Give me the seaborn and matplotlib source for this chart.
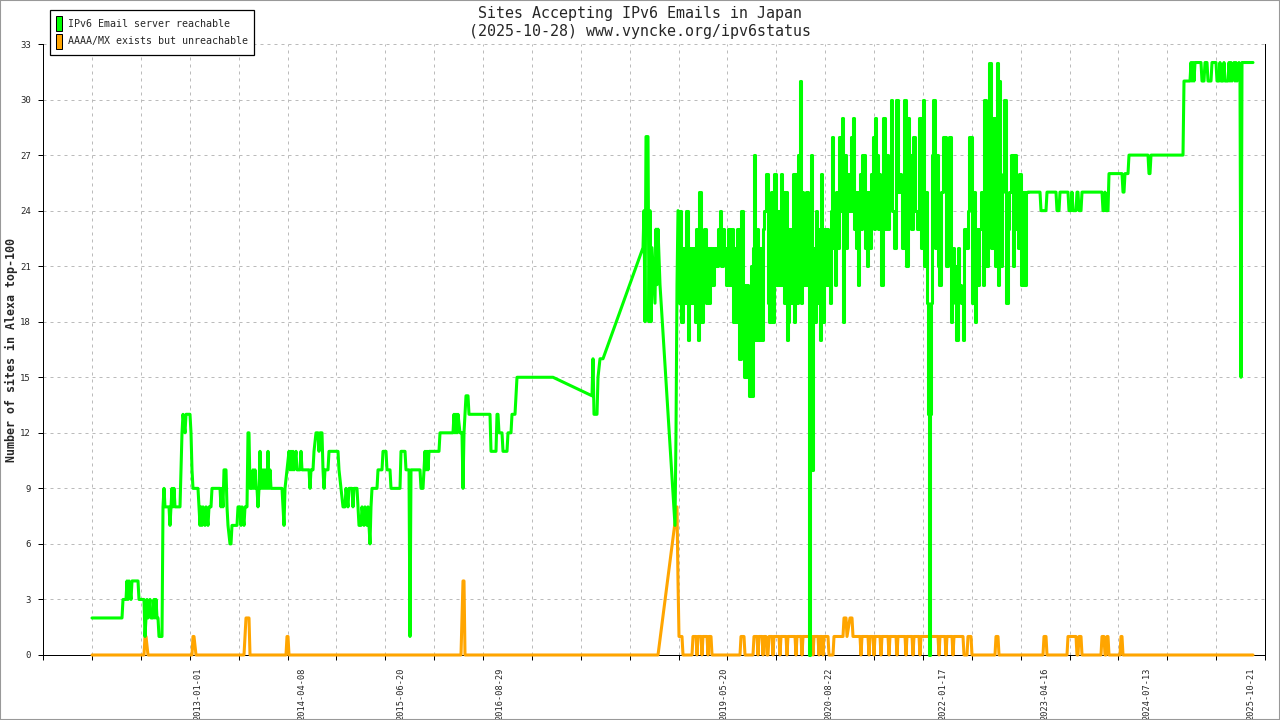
import numpy as np
import pandas as pd
import matplotlib
matplotlib.use("Agg")
import matplotlib.pyplot as plt
from matplotlib.patches import Patch, Rectangle
import seaborn as sns

# ---------------- data (sample position, number of sites) ----------------
green_early = [(92,2),(122,2),(123,3),(126,3),(127,4),(128,3),(129,4),(131,3),(132,4),(138,4),(139,3),(144,3),
    (145,1),(146,2),(147,3),(148,2),(150,3),(151,2),(153,2),(154,3),(155,2),(156,3),(157,2),(158,2),(159,1),(162,1),
    (163,8),(164,9),(165,8),(169,8),(170,7),(171,8),(172,9),(173,8),(174,9),(175,8),(180,8),(181,10),(182,12),(183,13),
    (185,12),(186,13),(190,13),(191,12),(192,10),(193,9),(198,9),(200,7),(201,8),(202,7),(203,8),(205,7),(206,8),(208,7),
    (209,8),(211,8),(212,9),(220,9),(221,8),(222,9),(223,8),(224,10),(226,10),(227,8),(228,7),(230,6),(231,6),(232,7),
    (237,7),(238,8),(240,8),(241,7),(242,8),(244,7),(245,8),(247,8),(248,12),(249,12),(250,9),(252,9),(253,10),(254,9),
    (255,10),(256,9),(257,9),(258,8),(259,9),(260,11),(261,9),(262,10),(263,9),(264,10),(265,9),(266,10),(267,9),(268,11),
    (269,9),(270,10),(271,9),(282,9),(283,8),(284,7),(285,9),(287,10),(289,11),(290,10),(291,11),(292,10),(293,11),(294,10),
    (296,11),(297,10),(300,10),(301,11),(302,10),(309,10),(310,9),(311,10),(313,10),(314,11),(316,12),(318,12),(319,11),
    (320,12),(322,12),(323,10),(324,9),(325,10),(328,10),(329,11),(338,11),(339,10),(341,9),(343,8),(345,8),(346,9),(348,8),
    (349,9),(352,9),(353,8),(354,9),(357,9),(358,8),(359,7),(361,7),(362,8),(364,7),(365,8),(367,7),(368,8),(370,6),(371,8),
    (372,9),(377,9),(378,10),(382,10),(383,11)]

green_mid = [(386,11),(387,10),(390,10),(391,9),(400,9),(401,11),(405,11),(406,10),(409,10),(410,1),(411,10),(420,10),
    (421,9),(423,9),(424,10),(425,11),(426,10),(427,11),(428,10),(429,11),(439,11),(440,12),(453,12),(454,13),(455,12),
    (456,13),(457,12),(458,13),(460,12),(462,12),(463,9),(464,12),(465,13),(466,14),(468,14),(469,13),(490,13),(491,11),
    (496,11),(497,13),(498,13),(499,12),(502,12),(503,11),(507,11),(508,12),(511,12),(512,13),(515,13),(516,14),(517,15),
    (553,15),(592,14),(593,16),(594,13),(597,13),(598,15),(600,16),(603,16),(643,22),(644,24),(645,18),(646,28),(648,28),
    (649,18),(650,24),(651,18),(652,22),(653,21),(655,19),(656,23),(657,20),(658,23),(660,20),(675,7),(676,12),(677,20),
    (678,24)]

green_noisy = [(678,24),(679,19),(680,24),(682,18),(683,22),(685,19),(687,24),(688,17),(690,22),(692,19),(694,22),
    (695,18),(697,23),(698,17),(700,25),(702,18),(703,22),(705,23),(706,19),(708,22),(709,19),(711,22),(713,20),(715,22),
    (717,21),(719,23),(720,24),(722,21),(723,23),(725,22),(727,20),(729,23),(731,20),(732,23),(733,18),(735,22),(736,18),
    (738,23),(740,16),(742,24),(743,20),(745,15),(747,20),(748,15),(750,14),(751,21),(752,14),(753,22),(754,27),(755,17),
    (757,23),(759,17),(761,22),(762,17),(763,23),(765,24),(767,26),(768,19),(770,18),(772,25),(773,18),(775,26),(777,20),
    (778,24),(780,20),(781,26),(782,20),(783,25),(785,19),(786,25),(787,17),(788,18),(790,23),(792,19),(793,26),(794,18),
    (796,26),(797,19),(798,27),(799,20),(800,31),(801,19),(802,25),(803,22),(805,20),(807,25),(808,20),(809,0),(810,10),
    (811,27),(812,10),(813,22),(815,18),(816,24),(818,19),(819,23),(820,17),(821,26),(822,20),(823,18),(825,23),(826,20),
    (827,23),(829,20),(830,19),(831,24),(832,28),(834,22),(835,20),(836,25),(838,22),(840,28),(841,24),(842,29),(843,18),
    (844,24),(845,27),(846,22),(847,25),(848,26),(850,24),(851,28),(852,24),(853,29),(854,23),(855,25),(856,22),(857,25),
    (858,20),(859,24),(860,26),(861,23),(862,27),(863,24),(864,27),(865,22),(866,25),(867,21),(869,25),(870,22),(872,26),
    (873,28),(874,23),(875,29),(876,25),(877,27),(878,23),(879,26),(880,24),(882,20),(884,29),(885,23),(887,27),(888,23),
    (890,25),(891,30),(893,24),(895,22),(897,30),(898,25),(900,26),(901,25),(903,22),(905,30),(907,21),(908,29),(910,27),
    (912,23),(914,28),(915,24),(918,23),(920,29),(922,22),(923,30),(925,21),(926,25),(927,19),(928,13),(929,0),(930,13),
    (931,19),(932,27),(934,30),(935,22),(937,27),(938,21),(940,20),(942,25),(943,28),(945,28),(947,21),(948,27),(950,28),
    (951,18),(952,19),(953,22),(955,21),(957,17),(958,22),(960,20),(962,19),(963,17),(965,23),(967,22),(968,24),(969,28),
    (970,28),(973,19),(974,25),(975,18),(977,23),(978,20),(980,23),(982,25),(983,20),(985,30),(987,21),(988,24),(990,32),
    (992,22),(994,29),(995,21),(996,25),(997,32),(998,20),(999,31),(1001,21),(1002,25),(1003,26),(1005,30),(1007,19),
    (1008,23),(1009,25),(1012,27),(1013,21),(1015,27),(1017,23),(1018,22),(1020,26),(1022,20),(1023,25),(1025,20),
    (1027,25),(1028,25)]

green_late = [(1028,25),(1040,25),(1041,24),(1046,24),(1047,25),(1056,25),(1057,24),(1059,24),(1060,25),(1068,25),
    (1069,24),(1071,24),(1072,25),(1073,24),(1076,24),(1077,25),(1078,25),(1079,24),(1081,24),(1082,25),(1102,25),
    (1103,24),(1104,24),(1105,25),(1106,24),(1108,24),(1109,26),(1122,26),(1123,25),(1124,25),(1125,26),(1128,26),
    (1129,27),(1148,27),(1149,26),(1150,26),(1151,27),(1183,27),(1184,31),(1190,31),(1191,32),(1192,31),(1193,32),
    (1194,31),(1195,32),(1201,32),(1202,31),(1204,31),(1205,32),(1207,32),(1208,31),(1211,31),(1212,32),(1216,32),
    (1217,31),(1219,31),(1220,32),(1221,31),(1223,31),(1224,32),(1225,31),(1228,31),(1229,32),(1230,31),(1231,32),
    (1232,31),(1234,32),(1235,31),(1236,32),(1237,31),(1239,32),(1240,31),(1241,15),(1242,32),(1253,32)]

orange_early = [(92,0),(144,0),(145,1),(146,1),(148,0),(192,0),(193,1),(194,1),(196,0),(244,0),(245,1),(246,2),
    (249,2),(250,0),(286,0),(287,1),(288,1),(289,0),(461,0),(462,2),(463,4),(464,4),(465,0),(658,0),(677,8),(678,4),
    (679,1),(682,1),(683,0)]

orange_noisy = [(692,0),(693,1),(696,1),(697,0),(698,1),(701,1),(702,0),(703,1),(707,1),(708,0),(709,1),(711,1),
    (712,0),(740,0),(741,1),(744,1),(745,0),(753,0),(754,1),(757,1),(758,0),(759,1),(762,1),(763,0),(764,1),(766,1),
    (767,0),(768,0),(769,1),(772,1),(773,0),(774,1),(779,1),(780,0),(781,1),(786,1),(787,0),(788,1),(795,1),(796,0),
    (797,1),(801,1),(802,0),(803,1),(812,1),(813,0),(814,1),(818,1),(819,0),(820,1),(822,1),(823,0),(824,1),(828,1),
    (829,0),(833,0),(834,1),(843,1),(844,2),(846,2),(847,1),(850,2),(852,2),(853,1),(860,1),(861,0),(862,1),(868,1),
    (869,0),(870,1),(873,1),(874,0),(875,1),(880,1),(881,0),(882,1),(888,1),(889,0),(890,1),(896,1),(897,0),(898,1),
    (905,1),(906,0),(907,1),(912,1),(913,0),(914,1),(919,1),(920,0),(921,1),(938,1),(939,0),(940,1),(945,1),(946,0),
    (947,1),(952,1),(953,0),(954,1),(963,1),(964,0)]

orange_late = [(967,0),(968,1),(971,1),(972,0),(995,0),(996,1),(998,1),(999,0),(1043,0),(1044,1),(1046,1),(1047,0),
    (1067,0),(1068,1),(1076,1),(1077,0),(1078,0),(1079,1),(1081,1),(1082,0),(1101,0),(1102,1),(1104,1),(1105,0),
    (1106,0),(1107,1),(1108,1),(1109,0),(1120,0),(1121,1),(1122,1),(1123,0),(1253,0)]

date_label_pos = [198, 302, 401, 500, 724, 829, 943, 1045, 1147, 1251]
date_labels = ["2013-01-01", "2014-04-08", "2015-06-20", "2016-08-29", "2019-05-20",
               "2020-08-22", "2022-01-17", "2023-04-16", "2024-07-13", "2025-10-21"]
y_ticks = list(range(0, 34, 3))
series_names = ["IPv6 Email server reachable", "AAAA/MX exists but unreachable"]
series_colors = ["#00ff00", "#ffa500"]

cols = ["sample", "sites"]
green_a = pd.DataFrame(green_early + green_mid, columns=cols)
green_b = pd.DataFrame(green_noisy, columns=cols)
green_c = pd.DataFrame(green_late, columns=cols)
orange = pd.DataFrame(orange_early + orange_noisy + orange_late, columns=cols)

# ---------------- figure ----------------
sns.set_style("white")
plt.rcParams['font.family'] = ['DejaVu Sans Mono', 'DejaVu Sans']

fig = plt.figure(figsize=(12.8, 7.2), dpi=100)
ax = fig.add_axes([43/1280, 65/720, 1222/1280, 611/720])

common = dict(x="sample", y="sites", sort=False, estimator=None, errorbar=None, lw=2.2, ax=ax, legend=False)
sns.lineplot(data=orange, color=series_colors[1], zorder=3, **common)
sns.lineplot(data=green_a, color=series_colors[0], zorder=4, **common)
sns.lineplot(data=green_b, color=series_colors[0], zorder=4, drawstyle='steps-mid', **common)
sns.lineplot(data=green_c, color=series_colors[0], zorder=4, **common)
for ln in ax.lines:
    ln.set_clip_on(False)

ax.set_xlim(43, 1265)
ax.set_ylim(0, 33)

grid_x = [43] + list(np.linspace(92, 1265, 25))
ax.set_xticks(grid_x, minor=True)
ax.set_xticks(date_label_pos, labels=date_labels)
ax.tick_params(axis='x', which='major', length=0, pad=9, labelsize=6.2, labelrotation=90)
ax.tick_params(axis='x', which='minor', length=3.6, width=0.72, color='black', direction='out', bottom=True)
ax.set_yticks(y_ticks)
ax.tick_params(axis='y', which='major', length=3.6, width=0.72, color='black', direction='out',
               pad=5, labelsize=6.5, left=True)
ax.grid(False)
ax.grid(which='minor', axis='x', color='#bbbbbb', lw=0.72, ls=(0, (3, 4)))
ax.grid(which='major', axis='y', color='#bbbbbb', lw=0.72, ls=(0, (3, 4)))
ax.set_axisbelow(True)

for s in ['left', 'bottom', 'right']:
    ax.spines[s].set_color('black')
    ax.spines[s].set_linewidth(0.72)
ax.spines['top'].set_visible(False)

ax.set_xlabel("")
ax.set_ylabel("Number of sites in Alexa top-100", fontsize=8.4, fontweight='bold')
ax.yaxis.set_label_coords((18 - 43) / 1222, 0.5)

fig.text(0.5, 1 - 13.5/720, "Sites Accepting IPv6 Emails in Japan", ha='center', va='center', fontsize=10.8)
fig.text(0.5, 1 - 31.5/720, "(2025-10-28) www.vyncke.org/ipv6status", ha='center', va='center', fontsize=10.8)

handles = [Patch(facecolor=c, edgecolor='black', lw=0.72) for c in series_colors]
leg = fig.legend(handles, series_names, loc='upper left', bbox_to_anchor=(50/1280, 1 - 10/720),
                 bbox_transform=fig.transFigure, fontsize=7.2, frameon=True, fancybox=False,
                 framealpha=1, edgecolor='black', handlelength=0.6, handleheight=1.9,
                 handletextpad=0.6, borderpad=0.6, labelspacing=0.3, borderaxespad=0)
leg.get_frame().set_linewidth(0.9)

fig.add_artist(Rectangle((0, 0), 1, 1, transform=fig.transFigure, fill=False,
                         edgecolor='#999999', lw=1.5))

fig.savefig("out.png", dpi=100)
